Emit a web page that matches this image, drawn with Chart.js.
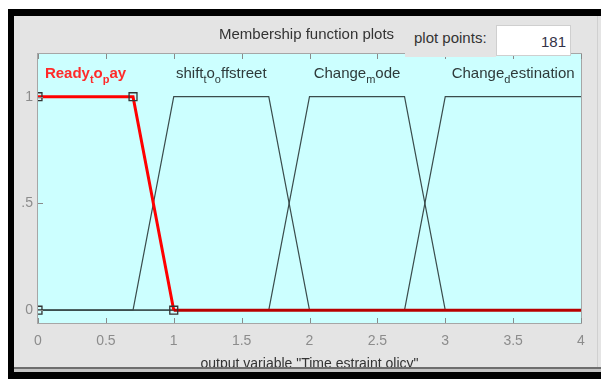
<!DOCTYPE html>
<html lang="en">
<head>
<meta charset="UTF-8">
<title>Membership function plots</title>
<script src="https://cdn.jsdelivr.net/npm/chart.js"></script>
<style>
  html, body { margin: 0; padding: 0; background: #fff; }
  .janela { position: relative; width: 601px; height: 379px; overflow: hidden; font-family: "Liberation Sans", Arial, sans-serif; }
  #mfChart { position: absolute; left: 0; top: 0; }
  .cab { position: absolute; color: #333; font-size: 15px; white-space: nowrap; }
  .cab-titulo { left: 219px; top: 25px; }
  .cab-fundo { position: absolute; left: 405px; top: 18px; width: 91px; height: 39px; background: #e4e4e4; }
  .cab-pontos { left: 414px; top: 29px; }
  .cab-caixa { position: absolute; left: 496px; top: 25px; width: 75px; height: 31px; background: #fff; border: 1px solid #cfcfcf; box-sizing: border-box; }
  .cab-caixa span { position: absolute; right: 4px; top: 7px; font-size: 15px; color: #333348; }
</style>
</head>
<body>
<div class="janela">
  <canvas id="mfChart" width="601" height="379"></canvas>
  <div class="cab cab-titulo">Membership function plots</div>
  <div class="cab-fundo"></div>
  <div class="cab cab-pontos">plot points:</div>
  <div class="cab-caixa"><span>181</span></div>
</div>

<script>
// eixos
var xTickValues = [0, 0.5, 1, 1.5, 2, 2.5, 3, 3.5, 4];
var yTickValues = [0, 0.5, 1];
var yTickLabels = ['0', '.5', '1'];

// funcoes de pertinencia (nomes no formato TeX, "_" = subscrito)
var mfNames = ['Ready_to_pay', 'shift_to_offstreet', 'Change_mode', 'Change_destination'];
var readyX = [0, 0.7, 1, 4];
var readyY = [1, 1, 0, 0];
var shiftX = [0, 0.7, 1, 1.7, 2, 4];
var shiftY = [0, 0, 1, 1, 0, 0];
var modeX = [0, 1.7, 2, 2.7, 3, 4];
var modeY = [0, 0, 1, 1, 0, 0];
var destX = [0, 2.7, 3, 4];
var destY = [0, 0, 1, 1];

// pontos de controle da funcao selecionada
var markerX = [0, 0, 0.7, 1];
var markerY = [0, 1, 1, 0];

// posicao dos nomes (centro do patamar)
var labelX = [0.35, 1.35, 2.35, 3.5];
var labelY = 1.11;

var axisTitle = 'output variable "Time estraint olicy"';

function pontos(xs, ys) {
    return xs.map(function (x, i) { return { x: x, y: ys[i] }; });
}

// desenha texto com subscritos estilo TeX
function textoTex(ctx, nome, cx, cy, tamanho, peso, cor) {
    var partes = [];
    var trechos = nome.split('_');
    partes.push({ t: trechos[0], sub: false });
    for (var i = 1; i < trechos.length; i++) {
        partes.push({ t: trechos[i].charAt(0), sub: true });
        partes.push({ t: trechos[i].slice(1), sub: false });
    }
    var fNormal = peso + ' ' + tamanho + 'px "Liberation Sans", Arial, sans-serif';
    var fSub = peso + ' ' + Math.round(tamanho * 0.7) + 'px "Liberation Sans", Arial, sans-serif';
    var total = 0;
    partes.forEach(function (p) {
        ctx.font = p.sub ? fSub : fNormal;
        p.w = ctx.measureText(p.t).width;
        total += p.w;
    });
    var x = cx - total / 2;
    ctx.fillStyle = cor;
    ctx.textBaseline = 'alphabetic';
    ctx.textAlign = 'left';
    partes.forEach(function (p) {
        ctx.font = p.sub ? fSub : fNormal;
        ctx.fillText(p.t, x, cy + (p.sub ? tamanho * 0.35 : 0));
        x += p.w;
    });
}

var molduraPlugin = {
    id: 'moldura',
    beforeDraw: function (chart) {
        var ctx = chart.ctx, a = chart.chartArea;
        ctx.save();
        ctx.fillStyle = '#e4e4e4';
        ctx.fillRect(0, 0, chart.width, chart.height);
        ctx.fillStyle = '#ffffff';
        ctx.fillRect(0, 0, chart.width, 9);
        ctx.fillRect(0, 0, 8, chart.height);
        ctx.fillStyle = '#ccffff';
        ctx.fillRect(a.left, a.top, a.right - a.left, a.bottom - a.top);
        ctx.restore();
    },
    afterDatasetsDraw: function (chart) {
        var ctx = chart.ctx, a = chart.chartArea;
        var xs = chart.scales.x, ys = chart.scales.y;
        ctx.save();
        // borda da area do grafico
        ctx.strokeStyle = '#a6a6a6';
        ctx.lineWidth = 1;
        ctx.strokeRect(a.left - 0.5, a.top - 0.5, a.right - a.left + 1, a.bottom - a.top + 1);
        // marcas para dentro
        ctx.strokeStyle = '#8a8a8a';
        xTickValues.forEach(function (v) {
            var px = Math.round(xs.getPixelForValue(v)) + 0.5;
            ctx.beginPath();
            ctx.moveTo(px, a.bottom); ctx.lineTo(px, a.bottom - 5);
            ctx.moveTo(px, a.top); ctx.lineTo(px, a.top + 5);
            ctx.stroke();
        });
        yTickValues.forEach(function (v) {
            var py = Math.round(ys.getPixelForValue(v)) + 0.5;
            ctx.beginPath();
            ctx.moveTo(a.left, py); ctx.lineTo(a.left + 5, py);
            ctx.stroke();
        });
        // nomes das funcoes
        mfNames.forEach(function (nome, i) {
            var sel = i === 0;
            textoTex(ctx, nome, xs.getPixelForValue(labelX[i]), ys.getPixelForValue(labelY) + 5,
                15, sel ? 'bold' : 'normal', sel ? '#ff2a2a' : '#2e3a3a');
        });
        ctx.restore();
    },
    afterDraw: function (chart) {
        var ctx = chart.ctx, w = chart.width, h = chart.height;
        ctx.save();
        // rodape da janela (corta o titulo do eixo)
        ctx.fillStyle = '#6e6e6e';
        ctx.fillRect(14, 367, w - 14, 2);
        ctx.fillStyle = '#c4c4c4';
        ctx.fillRect(14, 369, w - 14, 3);
        ctx.fillStyle = '#d0d0d0';
        ctx.fillRect(w - 4, 15, 1, 352);
        // borda preta
        ctx.fillStyle = '#000000';
        ctx.fillRect(8, 9, w - 8, 7);
        ctx.fillRect(8, 9, 6, h - 9);
        ctx.fillRect(8, 372, w - 8, h - 372);
        ctx.restore();
    }
};

var ctx = document.getElementById('mfChart').getContext('2d');
new Chart(ctx, {
    type: 'line',
    data: {
        datasets: [
            {
                label: 'pontos',
                data: pontos(markerX, markerY),
                showLine: false,
                pointStyle: 'rect',
                pointRadius: 5.6,
                pointBorderWidth: 1.3,
                pointBorderColor: '#333333',
                pointBackgroundColor: 'rgba(0,0,0,0)',
                clip: 0,
                order: 0
            },
            {
                label: mfNames[0],
                data: pontos(readyX, readyY),
                borderColor: '#ff0000',
                borderWidth: 3,
                pointRadius: 0,
                clip: 0,
                segment: {
                    borderColor: function (c) {
                        return (c.p0.parsed.y === 0 && c.p1.parsed.y === 0) ? '#b80000' : '#ff0000';
                    }
                },
                order: 1
            },
            {
                label: mfNames[1],
                data: pontos(shiftX, shiftY),
                borderColor: '#3a4c4c',
                borderWidth: 1.2,
                pointRadius: 0,
                order: 2
            },
            {
                label: mfNames[2],
                data: pontos(modeX, modeY),
                borderColor: '#3a4c4c',
                borderWidth: 1.2,
                pointRadius: 0,
                order: 3
            },
            {
                label: mfNames[3],
                data: pontos(destX, destY),
                borderColor: '#3a4c4c',
                borderWidth: 1.2,
                pointRadius: 0,
                order: 4
            }
        ]
    },
    options: {
        responsive: false,
        animation: false,
        devicePixelRatio: 1,
        layout: { padding: { left: 0, right: 20, top: 54, bottom: 0 } },
        plugins: {
            legend: { display: false },
            tooltip: { enabled: false }
        },
        elements: { line: { tension: 0 } },
        scales: {
            x: {
                type: 'linear',
                min: 0,
                max: 4,
                grid: { display: false, drawTicks: false },
                border: { display: false },
                afterBuildTicks: function (s) {
                    s.ticks = xTickValues.map(function (v) { return { value: v }; });
                },
                afterFit: function (s) { s.height = 56; },
                ticks: {
                    padding: 10,
                    maxRotation: 0,
                    autoSkip: false,
                    color: '#8c8c8c',
                    font: { family: '"Liberation Sans", Arial, sans-serif', size: 14 },
                    callback: function (v) { return String(v); }
                },
                title: {
                    display: true,
                    text: axisTitle,
                    color: '#333333',
                    padding: { top: 0, bottom: 6 },
                    font: { family: '"Liberation Sans", Arial, sans-serif', size: 14 }
                }
            },
            y: {
                type: 'linear',
                min: -0.06,
                max: 1.2,
                grid: { display: false, drawTicks: false },
                border: { display: false },
                afterBuildTicks: function (s) {
                    s.ticks = yTickValues.map(function (v) { return { value: v }; });
                },
                afterFit: function (s) { s.width = 38; },
                ticks: {
                    padding: 5,
                    color: '#8c8c8c',
                    font: { family: '"Liberation Sans", Arial, sans-serif', size: 14 },
                    callback: function (v) {
                        var i = yTickValues.indexOf(v);
                        return i >= 0 ? yTickLabels[i] : '';
                    }
                }
            }
        }
    },
    plugins: [molduraPlugin]
});
</script>
</body>
</html>
